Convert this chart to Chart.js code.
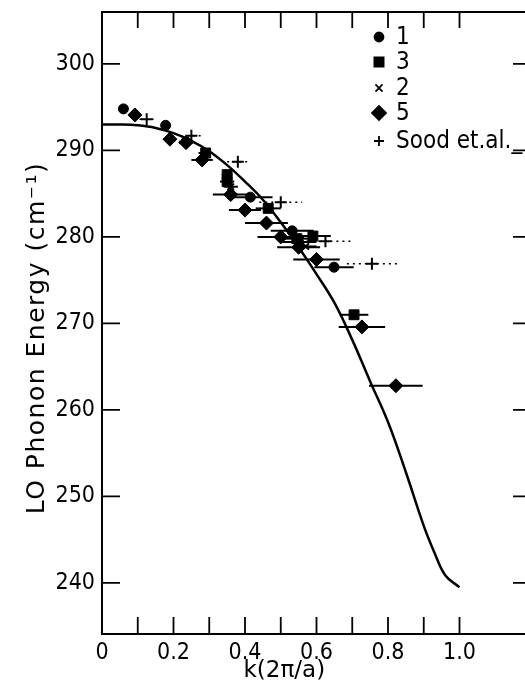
<!DOCTYPE html>
<html>
<head>
<meta charset="utf-8">
<script src="https://cdn.jsdelivr.net/npm/chart.js@4"></script>
<style>
  html, body { margin: 0; padding: 0; background: #fff; overflow: hidden; width: 525px; height: 682px; }
  #wrap { position: absolute; left: 0; top: 0; width: 540px; height: 682px; }
</style>
</head>
<body>
<div id="wrap"><canvas id="c" width="540" height="682"></canvas></div>
<script>
// ---- data ----
const curveK = [0, 0.05, 0.1, 0.15, 0.2, 0.25, 0.3, 0.35, 0.4, 0.45, 0.5, 0.55, 0.6, 0.65, 0.7, 0.75, 0.8, 0.85, 0.9, 0.93, 0.96, 1.0];
const curveE = [293.0, 293.0, 292.9, 292.6, 292.0, 291.1, 289.9, 288.3, 286.4, 284.3, 281.7, 278.8, 275.7, 272.4, 268.1, 263.3, 258.6, 252.8, 246.6, 243.5, 240.9, 239.5];

const k1 = [0.06, 0.178, 0.235, 0.415, 0.532, 0.55, 0.649];
const e1 = [294.8, 292.9, 291.0, 284.6, 280.7, 279.4, 276.5];
const k1Err = [0, 0, 0.02, 0.062, 0.06, 0.05, 0.055];

const k3 = [0.29, 0.35, 0.35, 0.465, 0.59, 0.545, 0.705];
const e3 = [289.7, 287.2, 286.4, 283.3, 280.1, 279.8, 271.0];
const k3Err = [0.02, 0.015, 0.02, 0.035, 0.05, 0.04, 0.04];

const k2 = [0.36, 0.57];
const e2 = [285.8, 278.9];
const k2Err = [0.02, 0.03];

const k5 = [0.092, 0.19, 0.235, 0.28, 0.36, 0.40, 0.46, 0.50, 0.55, 0.60, 0.727, 0.822];
const e5 = [294.1, 291.3, 290.9, 288.9, 284.9, 283.1, 281.6, 280.0, 278.8, 277.4, 269.6, 262.8];
const k5Err = [0, 0, 0.02, 0.03, 0.05, 0.045, 0.06, 0.065, 0.06, 0.065, 0.065, 0.075];

const kS = [0.125, 0.25, 0.38, 0.50, 0.625, 0.755];
const eS = [293.6, 291.7, 288.7, 284.0, 279.5, 276.9];
const kSErr = [0.02, 0.03, 0.03, 0.06, 0.07, 0.07];

const seriesLabels = ['1', '3', '2', '5', 'Sood et.al._'];
const xTickValues = [0, 0.1, 0.2, 0.3, 0.4, 0.5, 0.6, 0.7, 0.8, 0.9, 1.0];
const xTickLabels = ['0', '', '0.2', '', '0.4', '', '0.6', '', '0.8', '', '1.0'];
const yTickValues = [240, 250, 260, 270, 280, 290, 300];
const xTitle = 'k(2\u03c0/a)';
const yTitle = 'LO Phonon Energy (cm\u207b\u00b9)';

const pts = (xs, ys) => xs.map((x, i) => ({ x: x, y: ys[i] }));

const NARROW = "'Liberation Sans Narrow', 'DejaVu Sans Condensed', sans-serif";

const errorBars = {
  id: 'errorBars',
  beforeDatasetsDraw(chart) {
    const { ctx, scales: { x, y } } = chart;
    ctx.save();
    chart.data.datasets.forEach((ds) => {
      if (!ds.xErr) return;
      ctx.strokeStyle = '#000';
      ctx.lineWidth = ds.errDash ? 1.5 : 2;
      ctx.setLineDash(ds.errDash || []);
      ds.data.forEach((p, i) => {
        const e = ds.xErr[i];
        if (!e) return;
        const py = y.getPixelForValue(p.y);
        ctx.beginPath();
        ctx.moveTo(x.getPixelForValue(p.x - e), py);
        ctx.lineTo(x.getPixelForValue(p.x + e), py);
        ctx.stroke();
      });
    });
    ctx.restore();
  }
};

const frameAndTicks = {
  id: 'frameAndTicks',
  afterDraw(chart) {
    const { ctx, chartArea: a, scales: { x, y } } = chart;
    ctx.save();
    ctx.strokeStyle = '#000';
    ctx.lineWidth = 2;
    ctx.strokeRect(a.left, a.top, a.right - a.left, a.bottom - a.top);
    ctx.lineWidth = 1.8;
    ctx.beginPath();
    x.ticks.forEach(t => {
      if (t.value <= 0 || t.value > 1.0001) return;
      const px = x.getPixelForValue(t.value);
      ctx.moveTo(px, a.bottom); ctx.lineTo(px, a.bottom - 17);
      ctx.moveTo(px, a.top); ctx.lineTo(px, a.top + 16);
    });
    y.ticks.forEach(t => {
      const py = y.getPixelForValue(t.value);
      ctx.moveTo(a.left, py); ctx.lineTo(a.left + 18, py);
      ctx.moveTo(a.right, py); ctx.lineTo(a.right - 18, py);
    });
    ctx.stroke();

    // axis titles
    ctx.fillStyle = '#000';
    ctx.font = "23px 'DejaVu Sans', sans-serif";
    ctx.textAlign = 'center';
    ctx.textBaseline = 'middle';
    ctx.fillText(xTitle, x.getPixelForValue(0.51), 671);
    ctx.save();
    ctx.translate(37, 338);
    ctx.rotate(-Math.PI / 2);
    ctx.font = "25px 'DejaVu Sans', sans-serif";
    try { ctx.letterSpacing = '1.5px'; } catch (e) {}
    ctx.fillText(yTitle, 0, 0);
    ctx.restore();

    // legend
    const rowsY = [37, 62, 88, 113, 141];
    const mx = a.left + 277, tx = a.left + 294;
    ctx.textAlign = 'left';
    ctx.font = "24px " + NARROW;
    chart.data.datasets.filter(d => d.inLegend).forEach((d, i) => {
      Chart.helpers.drawPoint(ctx, {
        pointStyle: d.pointStyle,
        radius: d.legendRadius,
        rotation: 0,
        borderWidth: d.pointBorderWidth || 1
      }, mx, rowsY[i]);
      ctx.fillStyle = '#000';
      ctx.strokeStyle = '#000';
      if (d.pointStyle === 'circle' || d.pointStyle === 'rect' || d.pointStyle === 'rectRot') ctx.fill();
      ctx.fillText(d.label, tx, rowsY[i] + 1);
    });
    ctx.restore();
  }
};

const markerDefaults = { showLine: false, backgroundColor: '#000', borderColor: '#000', inLegend: true };

new Chart(document.getElementById('c'), {
  type: 'scatter',
  data: {
    datasets: [
      Object.assign({}, markerDefaults, { label: seriesLabels[0], data: pts(k1, e1), xErr: k1Err, pointStyle: 'circle', pointRadius: 5, legendRadius: 4.5 }),
      Object.assign({}, markerDefaults, { label: seriesLabels[1], data: pts(k3, e3), xErr: k3Err, pointStyle: 'rect', pointRadius: 7, legendRadius: 6.5 }),
      Object.assign({}, markerDefaults, { label: seriesLabels[2], data: pts(k2, e2), xErr: k2Err, pointStyle: 'crossRot', pointRadius: 4.5, pointBorderWidth: 2, legendRadius: 5 }),
      Object.assign({}, markerDefaults, { label: seriesLabels[3], data: pts(k5, e5), xErr: k5Err, pointStyle: 'rectRot', pointRadius: 7, legendRadius: 7 }),
      Object.assign({}, markerDefaults, { label: seriesLabels[4], data: pts(kS, eS), xErr: kSErr, errDash: [2, 4], pointStyle: 'cross', pointRadius: 6, pointBorderWidth: 2, legendRadius: 5 }),
      { label: 'theory', data: pts(curveK, curveE), showLine: true, pointRadius: 0, borderColor: '#000', borderWidth: 2.5, tension: 0.4, inLegend: false }
    ]
  },
  options: {
    responsive: false,
    animation: false,
    events: [],
    layout: { padding: { top: 12, right: 9, left: 0, bottom: 0 } },
    plugins: { legend: { display: false }, tooltip: { enabled: false } },
    scales: {
      x: {
        type: 'linear', min: 0, max: 1.2,
        afterFit: s => { s.height = 48; s.paddingLeft = 0; s.paddingRight = 0; },
        afterBuildTicks: s => { s.ticks = xTickValues.map(v => ({ value: v })); },
        grid: { display: false, drawTicks: false },
        border: { display: false },
        ticks: {
          padding: 5, color: '#000', autoSkip: false, maxRotation: 0,
          font: { size: 23, family: NARROW },
          callback: (v) => { const i = xTickValues.findIndex(t => Math.abs(t - v) < 1e-6); return i >= 0 ? xTickLabels[i] : ''; }
        }
      },
      y: {
        type: 'linear', min: 234.1, max: 306,
        afterFit: s => { s.width = 102; s.paddingTop = 0; s.paddingBottom = 0; },
        afterBuildTicks: s => { s.ticks = yTickValues.map(v => ({ value: v })); },
        grid: { display: false, drawTicks: false },
        border: { display: false },
        ticks: { padding: 7, color: '#000', font: { size: 23, family: NARROW } }
      }
    }
  },
  plugins: [errorBars, frameAndTicks]
});
</script>
</body>
</html>
